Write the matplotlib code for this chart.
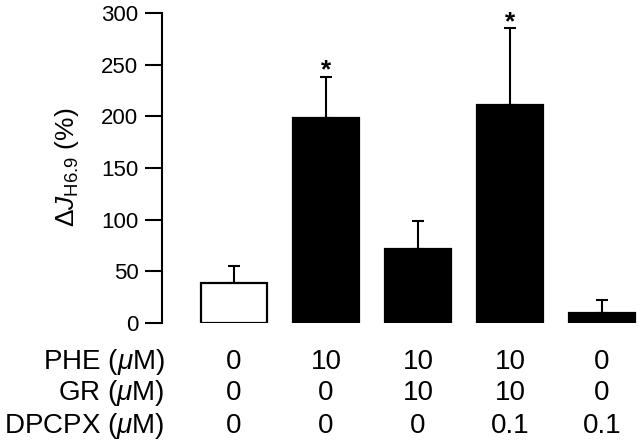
import matplotlib
matplotlib.use("Agg")
import matplotlib.pyplot as plt
from matplotlib.transforms import blended_transform_factory

plt.rcParams['font.family'] = ['Liberation Sans', 'DejaVu Sans']
plt.rcParams['mathtext.fontset'] = 'custom'
plt.rcParams['mathtext.rm'] = 'Liberation Sans'
plt.rcParams['mathtext.sf'] = 'Liberation Sans'
plt.rcParams['mathtext.it'] = 'Liberation Sans:italic'
plt.rcParams['mathtext.bf'] = 'Liberation Sans:bold'

# Data
groups = ['ctrl', 'PHE', 'PHE+GR', 'PHE+GR+DPCPX', 'DPCPX']
values = [39, 198, 72, 211, 10]
errors = [16, 40, 27, 74, 12]
significant = [False, True, False, True, False]
bar_colors = ['white', 'black', 'black', 'black', 'black']
yticks = [0, 50, 100, 150, 200, 250, 300]
row_labels = [r'PHE ($\mu$M)', r'GR ($\mu$M)', r'DPCPX ($\mu$M)']
phe = ['0', '10', '10', '10', '0']
gr = ['0', '0', '10', '10', '0']
dpcpx = ['0', '0', '0', '0.1', '0.1']
ylabel = r'Δ$J_{\mathrm{H6.9}}$ (%)'

fig = plt.figure(figsize=(6.4, 4.47), dpi=100)
ax = fig.add_axes([162/640, 1-323/447, 1-162/640, 310/447])

x = list(range(len(values)))
ax.bar(x, values, width=0.72, color=bar_colors, edgecolor='black', linewidth=1.6, zorder=2)
ax.errorbar(x, values, yerr=[[0]*len(errors), errors], fmt='none', ecolor='black',
            elinewidth=1.5, capsize=4, capthick=1.5, zorder=1)

for xi, v, e, s in zip(x, values, errors, significant):
    if s:
        ax.annotate('*', (xi, v + e), xytext=(0, -4), textcoords='offset points',
                    ha='center', va='bottom', fontsize=19, fontweight='bold')

ax.set_xlim(-0.783, 4.413)
ax.set_ylim(0, 300)
ax.set_yticks(yticks)
ax.set_xticks([])
for sp in ['top', 'right', 'bottom']:
    ax.spines[sp].set_visible(False)
ax.spines['left'].set_linewidth(1.5)
ax.tick_params(axis='y', direction='out', length=12, width=1.5, pad=5, labelsize=16)
ax.set_ylabel(ylabel, fontsize=19)
ax.yaxis.set_label_coords(-0.17, 0.503)

trans = blended_transform_factory(ax.transData, ax.transAxes)
row_y = [-0.126, -0.226, -0.332]
for ry, lab, vals in zip(row_y, row_labels, [phe, gr, dpcpx]):
    fig.text(165/640, 1 - (323 - ry*310)/447, lab,
             ha='right', va='center', fontsize=20)
    for xi, t in zip(x, vals):
        ax.text(xi, ry, t, transform=trans, ha='center', va='center', fontsize=20, clip_on=False)

fig.savefig('out.png', dpi=100)
